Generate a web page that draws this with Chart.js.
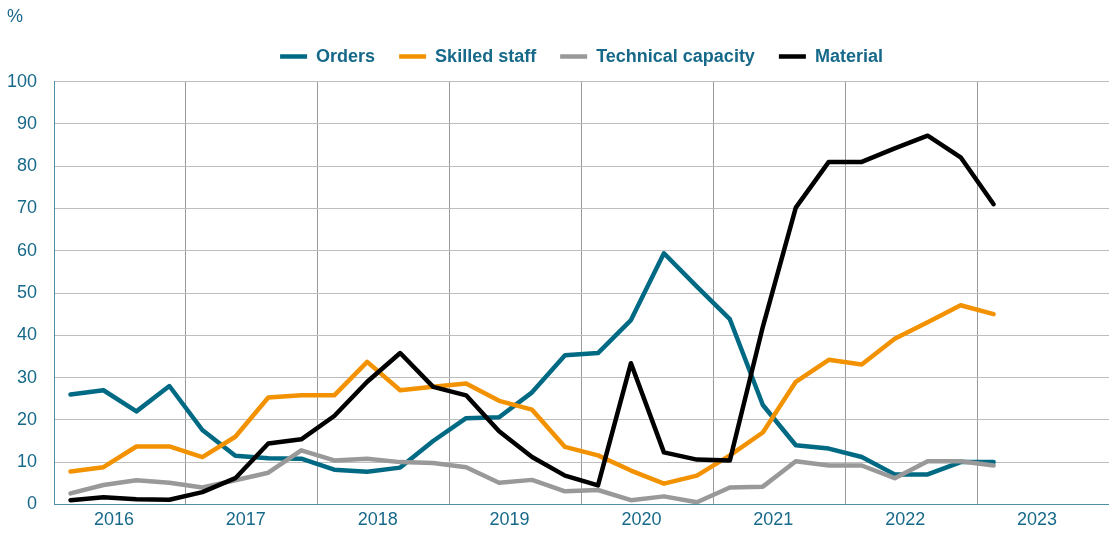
<!DOCTYPE html>
<html>
<head>
<meta charset="utf-8">
<script src="https://cdn.jsdelivr.net/npm/chart.js@4/dist/chart.umd.min.js"></script>
<style>
  html, body { margin: 0; padding: 0; background: #fff; }
  #wrap { width: 1109px; height: 536px; }
</style>
</head>
<body>
<div id="wrap"><canvas id="chart"></canvas></div>
<script>
// year labels on the x axis, one per 4 quarters
const years = ["2016", "2017", "2018", "2019", "2020", "2021", "2022", "2023"];
// quarters with data (2016 Q1 .. 2023 Q1)
const quarters = [
  "2016Q1", "2016Q2", "2016Q3", "2016Q4",
  "2017Q1", "2017Q2", "2017Q3", "2017Q4",
  "2018Q1", "2018Q2", "2018Q3", "2018Q4",
  "2019Q1", "2019Q2", "2019Q3", "2019Q4",
  "2020Q1", "2020Q2", "2020Q3", "2020Q4",
  "2021Q1", "2021Q2", "2021Q3", "2021Q4",
  "2022Q1", "2022Q2", "2022Q3", "2022Q4",
  "2023Q1"
];

const orders = [26, 27, 22, 28, 17.6, 11.5, 10.9, 10.8, 8.2, 7.7, 8.7, 15, 20.4, 20.6, 26.5, 35.3, 35.8, 43.6, 59.4, 51.5, 43.8, 23.5, 14, 13.2, 11.2, 7.1, 7.1, 10, 10];
const skilledStaff = [7.8, 8.8, 13.7, 13.7, 11.2, 16, 25.3, 25.8, 25.8, 33.7, 27, 27.8, 28.6, 24.5, 22.4, 13.6, 11.6, 8, 4.9, 6.8, 11.6, 17, 29, 34.2, 33.1, 39.2, 43.1, 47.1, 45];
const technicalCapacity = [2.6, 4.6, 5.7, 5.1, 4, 5.7, 7.5, 12.8, 10.4, 10.8, 10, 9.8, 8.8, 5.1, 5.8, 3.1, 3.4, 1, 1.9, 0.5, 4, 4.2, 10.2, 9.2, 9.2, 6.2, 10.2, 10.2, 9.2];
const material = [1, 1.7, 1.2, 1.1, 2.9, 6.2, 14.4, 15.4, 20.9, 29, 35.8, 27.8, 25.8, 17.3, 11.2, 6.8, 4.5, 33.4, 12.3, 10.6, 10.4, 42, 70.2, 81, 81, 84.2, 87.2, 82.1, 71];

const TEAL = "#006A84";
const TEXT = "#17698A";
const FONT = "'Liberation Sans', Arial, sans-serif";

// quarter i sits in the middle of its slot on a 0..32 quarter scale
function toPoints(values) {
  return values.map((v, i) => ({ x: quarters.indexOf(quarters[i]) + 0.5, y: v }));
}

function line(label, values, color, order) {
  return {
    label: label,
    data: toPoints(values),
    borderColor: color,
    backgroundColor: color,
    borderWidth: 4.5,
    borderCapStyle: "round",
    borderJoinStyle: "round",
    pointRadius: 0,
    pointStyle: "line",
    tension: 0,
    order: order
  };
}

// a bit more room under the legend
const legendGap = {
  id: "legendGap",
  afterInit(chart) {
    const fit = chart.legend.fit;
    chart.legend.fit = function () {
      fit.call(this);
      this.height += 6;
    };
  }
};

new Chart(document.getElementById("chart"), {
  type: "line",
  data: {
    datasets: [
      line("Orders", orders, TEAL, 4),
      line("Skilled staff", skilledStaff, "#F39200", 3),
      line("Technical capacity", technicalCapacity, "#999999", 2),
      line("Material", material, "#000000", 1)
    ]
  },
  plugins: [legendGap],
  options: {
    responsive: true,
    maintainAspectRatio: false,
    animation: false,
    layout: { padding: { left: 7, right: 0, top: 0, bottom: 0 } },
    plugins: {
      tooltip: { enabled: false },
      title: {
        display: true,
        text: "%",
        align: "start",
        color: TEXT,
        font: { family: FONT, size: 18, weight: "normal" },
        padding: { top: 6, bottom: -4 }
      },
      legend: {
        position: "top",
        fullSize: false,
        labels: {
          usePointStyle: true,
          pointStyleWidth: 27,
          boxHeight: 4,
          padding: 24,
          color: TEXT,
          font: { family: FONT, size: 18, weight: "bold" },
          sort: (a, b) => a.datasetIndex - b.datasetIndex
        }
      }
    },
    scales: {
      x: {
        type: "linear",
        min: 0,
        max: years.length * 4,
        border: { color: "#4F8FA6", width: 1 },
        grid: {
          drawTicks: false,
          lineWidth: 1,
          color: (ctx) => {
            const v = ctx.tick ? ctx.tick.value : -1;
            return (v > 0 && v < years.length * 4 && v % 4 === 0) ? "#9A9A9A" : "rgba(0,0,0,0)";
          }
        },
        ticks: {
          stepSize: 2,
          autoSkip: false,
          maxTicksLimit: 40,
          maxRotation: 0,
          padding: 5,
          labelOffset: -6,
          color: TEXT,
          font: { family: FONT, size: 18 },
          callback: (v) => (v % 4 === 2 ? years[(v - 2) / 4] : "")
        },
        afterFit: (scale) => {
          scale.paddingLeft = 0;
          scale.paddingRight = 0;
        }
      },
      y: {
        min: 0,
        max: 100,
        border: { color: "#4F8FA6", width: 1 },
        grid: { drawTicks: false, color: "#BDBDBD", lineWidth: 1 },
        ticks: {
          stepSize: 10,
          padding: 17,
          color: TEXT,
          font: { family: FONT, size: 18 }
        },
        afterFit: (scale) => {
          scale.width = 47;
        }
      }
    }
  }
});
</script>
</body>
</html>
